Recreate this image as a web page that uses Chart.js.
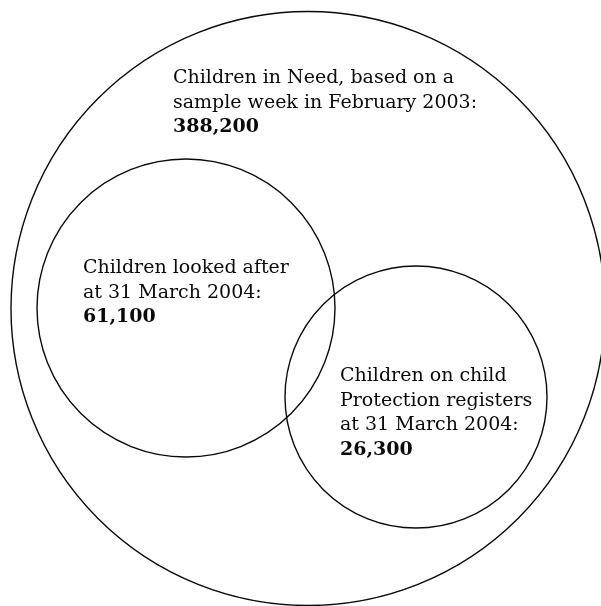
<!DOCTYPE html>
<html>
<head>
<meta charset="utf-8">
<script src="https://cdn.jsdelivr.net/npm/chart.js@4.4.1/dist/chart.umd.min.js"></script>
<style>
  html, body { margin: 0; padding: 0; background: #ffffff; }
  #wrap { position: relative; width: 601px; height: 606px; }
</style>
</head>
<body>
<div id="wrap"><canvas id="c"></canvas></div>
<script>
// ---- data ----
const categories = [
  "Children in Need",
  "Children looked after",
  "Children on child Protection registers"
];
const labelLines = [
  ["Children in Need, based on a", "sample week in February 2003:"],
  ["Children looked after", "at 31 March 2004:"],
  ["Children on child", "Protection registers", "at 31 March 2004:"]
];
const values = [388200, 61100, 26300];

// ---- layout (diagram geometry, not data) ----
const layout = {
  cx: [308, 186, 416],
  cy: [308.5, 308, 397],
  r:  [297, 149, 131],
  textX: [173, 83, 340],
  textY: [83, 273, 381]
};
const FONT_FAMILY = '"DejaVu Serif", serif';
const FONT_SIZE = 19;
const LINE_H = 24.5;

const bubbleData = values.map((v, i) => ({ x: layout.cx[i], y: layout.cy[i], r: layout.r[i], v: v }));

const labelPlugin = {
  id: 'vennLabels',
  afterDatasetsDraw(chart) {
    const ctx = chart.ctx;
    const xs = chart.scales.x, ys = chart.scales.y;
    ctx.save();
    ctx.fillStyle = '#0a0a0a';
    ctx.textAlign = 'left';
    ctx.textBaseline = 'alphabetic';
    values.forEach((v, i) => {
      const x = xs.getPixelForValue(layout.textX[i]);
      let y = ys.getPixelForValue(layout.textY[i]);
      ctx.font = FONT_SIZE + 'px ' + FONT_FAMILY;
      labelLines[i].forEach(line => { ctx.fillText(line, x, y); y += LINE_H; });
      ctx.font = 'bold ' + FONT_SIZE + 'px ' + FONT_FAMILY;
      ctx.fillText(v.toLocaleString('en-US'), x, y);
    });
    ctx.restore();
  }
};

new Chart(document.getElementById('c'), {
  type: 'bubble',
  data: {
    datasets: [{
      label: 'Venn',
      data: bubbleData,
      borderColor: '#0a0a0a',
      borderWidth: 1.4,
      backgroundColor: 'rgba(0,0,0,0)',
      hoverRadius: 0,
      clip: false
    }]
  },
  options: {
    responsive: true,
    maintainAspectRatio: false,
    animation: false,
    events: [],
    layout: { padding: 0, autoPadding: false },
    plugins: { legend: { display: false }, tooltip: { enabled: false } },
    scales: {
      x: { type: 'linear', min: 0, max: 601, display: false },
      y: { type: 'linear', min: 0, max: 606, reverse: true, display: false }
    }
  },
  plugins: [labelPlugin]
});
</script>
</body>
</html>
